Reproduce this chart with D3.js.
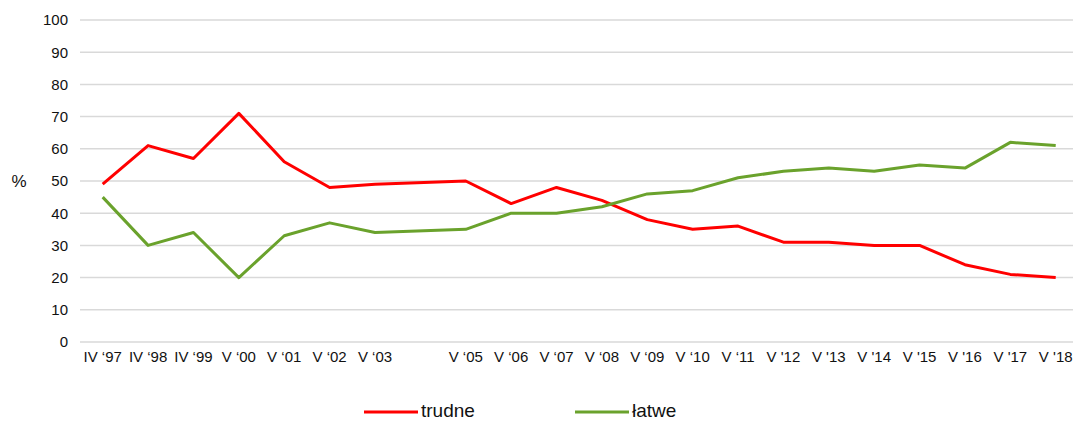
<!DOCTYPE html>
<html>
<head>
<meta charset="utf-8">
<script src="https://cdn.jsdelivr.net/npm/d3@7"></script>
<style>
  html, body { margin: 0; padding: 0; background: #fff; }
  svg { display: block; font-family: "Liberation Sans", Arial, sans-serif; }
</style>
</head>
<body>
<svg id="chart" width="1073" height="421"></svg>
<script>
const categories = ["IV \u201897", "IV \u201898", "IV \u201899", "V \u201800", "V \u201801", "V \u201802", "V \u201803", "", "V \u201805", "V \u201806", "V \u201807", "V \u201808", "V \u201809", "V \u201810", "V \u201811", "V '12", "V '13", "V '14", "V '15", "V '16", "V '17", "V '18"];
const trudne = [49, 61, 57, 71, 56, 48, 49, null, 50, 43, 48, 44, 38, 35, 36, 31, 31, 30, 30, 24, 21, 20];
const latwe = [45, 30, 34, 20, 33, 37, 34, null, 35, 40, 40, 42, 46, 47, 51, 53, 54, 53, 55, 54, 62, 61];
const yTicks = [0, 10, 20, 30, 40, 50, 60, 70, 80, 90, 100];
const seriesNames = ["trudne", "łatwe"];
const seriesColors = ["#ff0000", "#6aa22c"];

const svg = d3.select("#chart");
const mLeft = 80, mRight = 1078.4, mTop = 20, mBottom = 342;

const x = d3.scaleBand().domain(d3.range(categories.length)).range([mLeft, mRight]);
const y = d3.scaleLinear().domain([0, 100]).range([mBottom, mTop]);

// gridlines
svg.append("g").selectAll("line").data(yTicks).join("line")
  .attr("x1", mLeft).attr("x2", 1073)
  .attr("y1", d => y(d)).attr("y2", d => y(d))
  .attr("stroke", "#d9d9d9").attr("stroke-width", 1.5);

// y axis labels
const yAxis = d3.axisLeft(y).tickValues(yTicks).tickSize(0).tickPadding(0);
const gy = svg.append("g").attr("transform", `translate(${mLeft - 12},0)`).call(yAxis);
gy.select(".domain").remove();
gy.selectAll("text").attr("font-size", 15).attr("fill", "#111").attr("font-family", "Liberation Sans, Arial, sans-serif");

svg.append("text").attr("x", 19).attr("y", y(50)).attr("dy", "0.35em")
  .attr("text-anchor", "middle").attr("font-size", 17).attr("fill", "#111").text("%");

// x axis labels
const xAxis = d3.axisBottom(x).tickFormat(i => categories[i]).tickSize(0).tickPadding(0);
const gx = svg.append("g").attr("transform", `translate(0,${mBottom + 9})`).call(xAxis);
gx.select(".domain").remove();
gx.selectAll("text").attr("font-size", 15).attr("fill", "#111").attr("font-family", "Liberation Sans, Arial, sans-serif");

// lines
const line = d3.line()
  .x(d => x(d.i) + x.bandwidth() / 2)
  .y(d => y(d.v));

[trudne, latwe].forEach((vals, k) => {
  const pts = vals.map((v, i) => ({ i, v })).filter(d => d.v !== null);
  svg.append("path").datum(pts)
    .attr("d", line)
    .attr("fill", "none")
    .attr("stroke", seriesColors[k])
    .attr("stroke-width", 3)
    .attr("stroke-linejoin", "round");
});

// legend
const legendX = [364, 575];
seriesNames.forEach((name, k) => {
  const g = svg.append("g").attr("transform", `translate(${legendX[k]},411)`);
  g.append("line").attr("x1", 0).attr("x2", 54).attr("y1", 1).attr("y2", 1)
    .attr("stroke", seriesColors[k]).attr("stroke-width", 3);
  g.append("text").attr("x", 57).attr("y", 0).attr("dy", "0.3em")
    .attr("font-size", 19).attr("fill", "#111").text(name);
});
</script>
</body>
</html>
